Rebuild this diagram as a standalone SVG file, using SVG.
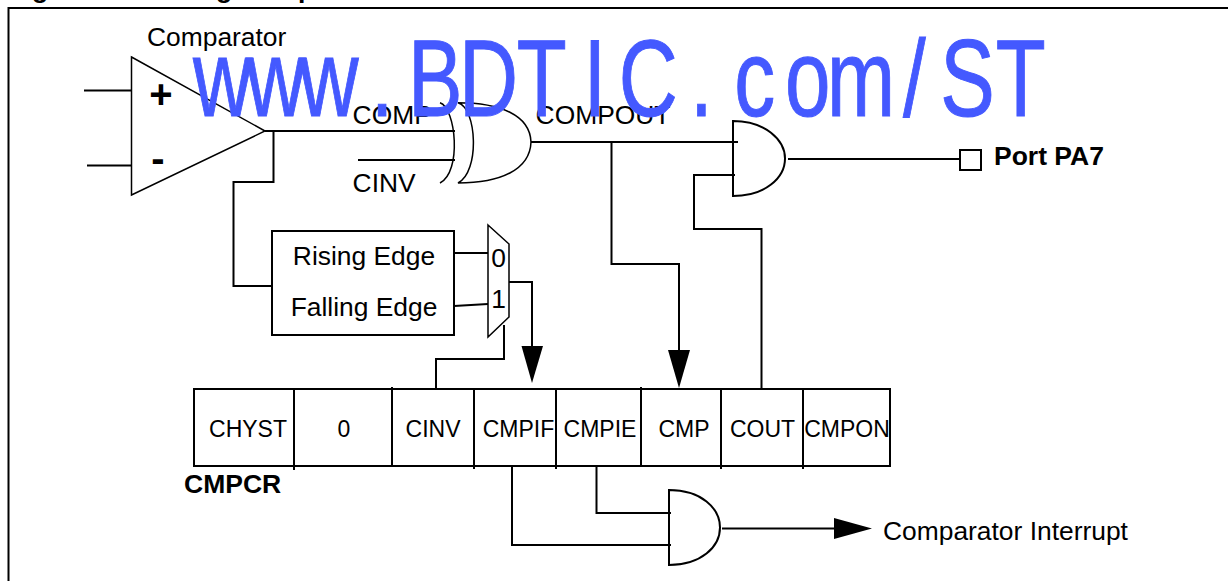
<svg xmlns="http://www.w3.org/2000/svg" width="1228" height="581" viewBox="0 0 1228 581">
<style>
text{font-family:"Liberation Sans",Arial,sans-serif;fill:#000}
.l{font-size:26.4px}
.m{font-size:26.4px;text-anchor:middle}
.r{font-size:23px;text-anchor:middle}
.b{font-size:26.5px;font-weight:bold}
.w{fill:none;stroke:#000;stroke-width:2}
.a{fill:none;stroke:#000;stroke-width:1.5}
.h{fill:#000;stroke:none}
.wm{font-size:109px;fill:#4459ff;stroke:#4459ff;stroke-width:1;text-anchor:middle}
</style>
<rect width="1228" height="581" fill="#fff"/>
<path class="w" d="M8.500 581V8H1228"/>
<text class="b" x="32" y="-2.500">g</text>
<text class="b" x="216" y="-2.500">g</text>
<text class="b" x="298" y="-2.500">p</text>
<g id="connectors">
<path class="w" d="M84 90.500H131M87 165.500H131"/>
<path class="w" d="M265 131H455M358 160H455M273.500 131V182H233.500V286H271"/>
<path class="w" d="M531 142H738M611.500 142V264H679V352M735 175H694V229H761.500V389"/>
<path class="w" d="M788 159H960"/>
<path class="w" d="M454 253H488M454 306L488 304M509 282H532V348"/>
<path class="w" d="M504 325V359H436V389"/>
<path class="w" d="M512 466V545H671M596.500 466V513H671"/>
<path class="w" d="M722 528.500H836"/>
<path class="h" d="M521.500 346H543L532 383Z"/>
<path class="h" d="M668 350H690L679 388Z"/>
<path class="h" d="M834 518L872 528.500L834 539Z"/>
</g>
<g id="comparator">
<path class="a" d="M131.500 57L265 131L131.500 195Z"/>
<text x="161" y="108" style="font-size:40px;font-weight:bold;text-anchor:middle">+</text>
<text x="158" y="172" style="font-size:40px;font-weight:bold;text-anchor:middle">-</text>
<text x="147" y="46" class="l">Comparator</text>
</g>
<g id="xor">
<path class="a" d="M440 102.700C456 108 462 172 440 183"/>
<path class="a" d="M458 102.700C477 108 480 172 458 183C500 183 530 170 531 142C530 115 500 102.700 458 102.700Z"/>
<text x="352.600" y="124" class="l">COMP</text>
<text x="352.600" y="192" class="l">CINV</text>
<text x="535.600" y="124" class="l">COMPOUT</text>
</g>
<g id="and-port">
<path class="a" style="stroke-width:2" d="M733 121C765 121 785 140 785 158.500C785 178 765 196 733 196Z"/>
</g>
<g id="port-pa7">
<rect class="w" x="960" y="150" width="21" height="20"/>
<text x="994" y="165" class="b">Port PA7</text>
</g>
<g id="edge-select">
<rect class="w" x="272" y="231" width="182" height="104"/>
<text x="364" y="265" class="m">Rising Edge</text>
<text x="364" y="315.500" class="m">Falling Edge</text>
</g>
<g id="mux">
<path class="a" d="M488 225L509 244V317L488 337Z"/>
<text x="498.500" y="267" class="m">0</text>
<text x="498.500" y="308" class="m">1</text>
</g>
<g id="cmpcr">
<rect class="w" x="194" y="389" width="696" height="77"/>
<path class="w" d="M294 389V470M392 387V466M474 389V469M556 389V469M641 387V466M721 389V469M803 389V469"/>
<text x="248" y="437" class="r">CHYST</text>
<text x="344" y="437" class="r">0</text>
<text x="433" y="437" class="r">CINV</text>
<text x="518.500" y="437" class="r">CMPIF</text>
<text x="600" y="437" class="r">CMPIE</text>
<text x="684" y="437" class="r">CMP</text>
<text x="762.500" y="437" class="r">COUT</text>
<text x="847" y="437" class="r">CMPON</text>
<text x="184" y="493" class="b">CMPCR</text>
</g>
<g id="and-interrupt">
<path class="a" style="stroke-width:2" d="M669 490C701 490 720 508 720 527.500C720 547 701 565 669 565Z"/>
<text x="883" y="540" class="l">Comparator Interrupt</text>
</g>
<text class="wm" transform="scale(.75 1)" y="116" x="296.800 367.700 438.700 509.600 580.500 651.500 722.400 793.300 864.300 935.200 1006.100 1077.100 1148 1219 1289.900 1360.800">www.BDTIC.com/ST</text>
</svg>
